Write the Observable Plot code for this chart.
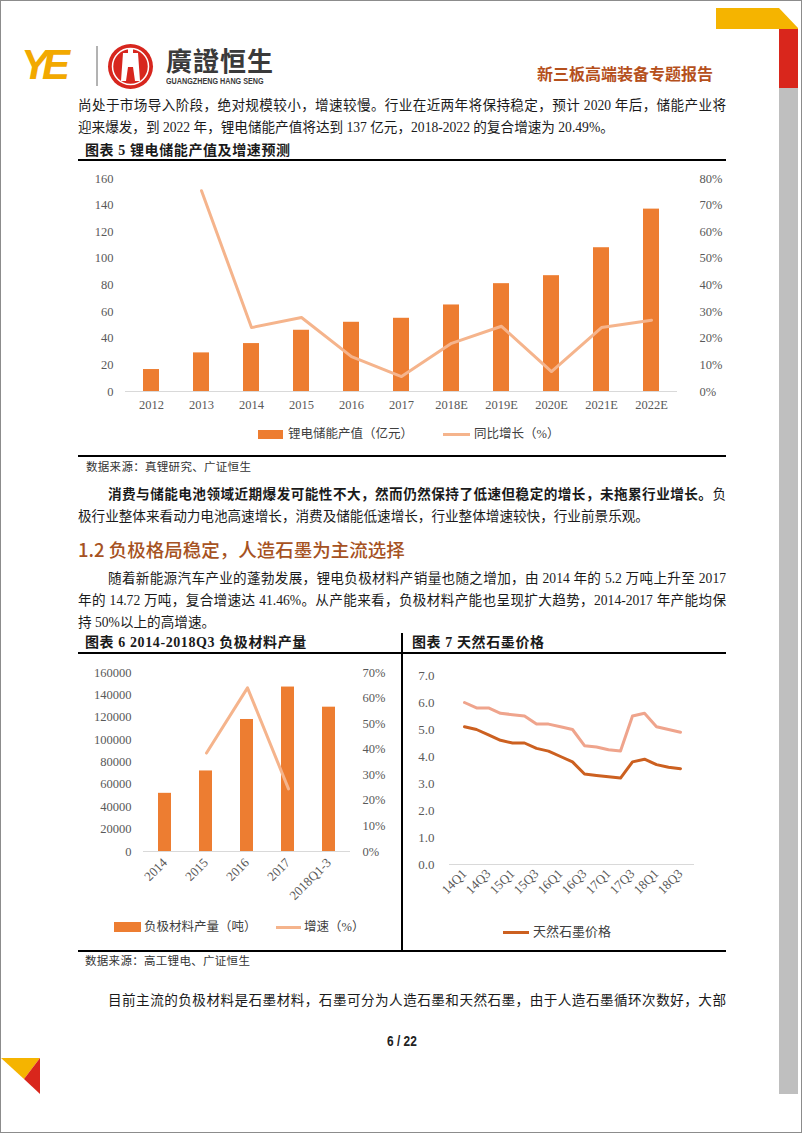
<!DOCTYPE html>
<html><head><meta charset="utf-8">
<script src="https://cdn.jsdelivr.net/npm/d3@7"></script>
<script src="https://cdn.jsdelivr.net/npm/@observablehq/plot@0.6"></script>
<style>
body{margin:0;background:#fff;}
#page{position:relative;width:802px;height:1133px;box-sizing:border-box;border:1px solid #8c8c8c;overflow:hidden;font-family:"Liberation Serif","Noto Sans CJK SC",serif;color:#1a1a1a;background:#fff;}
.abs{position:absolute;white-space:nowrap;}
.txt{position:absolute;left:77px;width:648px;height:22px;line-height:22px;font-size:13.6px;white-space:nowrap;}
.ind{left:107px;width:618px;}
.just{text-align:justify;text-align-last:justify;}
.rule{position:absolute;left:77px;width:648px;height:2px;background:#000;}
.ctitle{position:absolute;font-size:14px;font-weight:bold;letter-spacing:0.6px;line-height:20px;white-space:nowrap;}
.src{position:absolute;font-size:11.5px;line-height:16px;color:#333;white-space:nowrap;letter-spacing:0.3px;}
.leg{position:absolute;font-size:12.5px;line-height:16px;color:#404040;white-space:nowrap;}
.sw{position:absolute;}
svg.plot{position:absolute;}
</style></head>
<body>
<div id="page">
  <!-- decorations -->
  <svg class="abs" style="left:0;top:0" width="802" height="1133">
    <polygon points="715,7 778,7 797,27 797,28 715,28" fill="#F5B400"/>
    <rect x="778" y="28" width="19" height="59" fill="#D9261C"/>
    <rect x="778" y="87" width="19" height="1006" fill="#BFBFBF"/>
    <polygon points="0,1057 39,1057 23,1078" fill="#F5B400"/>
    <polygon points="39,1057 39,1093 23,1078" fill="#D9261C"/>
    <!-- logo -->
    <text x="20" y="78" font-family="Liberation Sans" font-weight="bold" font-style="italic" font-size="42" fill="#F2A900" letter-spacing="-7">YE</text>
    <line x1="96" y1="45" x2="96" y2="85" stroke="#666" stroke-width="1"/>
    <circle cx="129.5" cy="65.5" r="22.5" fill="#D7261E"/>
    <circle cx="129.5" cy="65.5" r="18" fill="none" stroke="#fff" stroke-width="1.5"/>
    <path d="M120,80 L122,52 L127,52 L127,47 L132,47 L132,52 L137,52 L139,80 L134,80 L132,66 L127,66 L125,80 Z" fill="#fff"/>
  </svg>
  <div class="abs" style="left:165px;top:46px;font-family:'Noto Sans CJK TC';font-weight:bold;font-size:26px;line-height:26px;color:#3a3a3a;letter-spacing:1px;">廣證恒生</div>
  <div class="abs" style="left:165px;top:76px;font-family:'Liberation Sans';font-weight:bold;font-size:9px;line-height:9px;color:#3a3a3a;transform:scaleX(0.8);transform-origin:0 0;">GUANGZHENG HANG SENG</div>
  <div class="abs" style="left:536px;top:61px;font-family:'Noto Sans CJK SC';font-weight:bold;font-size:16px;line-height:22px;color:#B5501C;">新三板高端装备专题报告</div>

  <!-- paragraph 1 -->
  <div class="txt just" style="top:94px">尚处于市场导入阶段，绝对规模较小，增速较慢。行业在近两年将保持稳定，预计 2020 年后，储能产业将</div>
  <div class="txt" style="top:116px">迎来爆发，到 2022 年，锂电储能产值将达到 137 亿元，2018-2022 的复合增速为 20.49%。</div>

  <div class="ctitle" style="left:84px;top:140px">图表 5 锂电储能产值及增速预测</div>
  <div class="rule" style="top:158px"></div>
  <div id="c5"></div>
  <div class="sw" style="left:257px;top:429px;width:25px;height:9px;background:#ED7D31"></div>
  <div class="leg" style="left:287px;top:425px">锂电储能产值（亿元）</div>
  <div class="sw" style="left:442px;top:432px;width:27px;height:3px;background:#F5B48C"></div>
  <div class="leg" style="left:473px;top:425px">同比增长（%）</div>
  <div class="rule" style="top:454px"></div>
  <div class="src" style="left:85px;top:458px">数据来源：真锂研究、广证恒生</div>

  <!-- paragraph 2 -->
  <div class="txt ind just" style="top:483px"><b>消费与储能电池领域近期爆发可能性不大，然而仍然保持了低速但稳定的增长，未拖累行业增长。</b>负</div>
  <div class="txt" style="top:505px">极行业整体来看动力电池高速增长，消费及储能低速增长，行业整体增速较快，行业前景乐观。</div>

  <div class="abs" style="left:77px;top:536px;font-family:'Noto Sans CJK SC';font-weight:500;font-size:18.5px;line-height:24px;color:#A65222;">1.2 负极格局稳定，人造石墨为主流选择</div>

  <!-- paragraph 3 -->
  <div class="txt ind just" style="top:567px">随着新能源汽车产业的蓬勃发展，锂电负极材料产销量也随之增加，由 2014 年的 5.2 万吨上升至 2017</div>
  <div class="txt just" style="top:589px">年的 14.72 万吨，复合增速达 41.46%。从产能来看，负极材料产能也呈现扩大趋势，2014-2017 年产能均保</div>
  <div class="txt" style="top:611px">持 50%以上的高增速。</div>

  <div class="ctitle" style="left:84px;top:632px">图表 6 2014-2018Q3 负极材料产量</div>
  <div class="ctitle" style="left:411px;top:632px">图表 7 天然石墨价格</div>
  <div class="rule" style="top:651px"></div>
  <div class="abs" style="left:400px;top:632px;width:2px;height:318px;background:#000"></div>
  <div id="c6"></div>
  <div id="c7"></div>
  <div class="sw" style="left:113px;top:921px;width:27px;height:10px;background:#ED7D31"></div>
  <div class="leg" style="left:143px;top:918px">负极材料产量（吨）</div>
  <div class="sw" style="left:275px;top:925px;width:25px;height:3px;background:#F5B48C"></div>
  <div class="leg" style="left:303px;top:918px">增速（%）</div>
  <div class="sw" style="left:502px;top:930px;width:26px;height:3px;background:#CC6020"></div>
  <div class="leg" style="left:532px;top:923px;font-size:13px">天然石墨价格</div>
  <div class="rule" style="top:949px"></div>
  <div class="src" style="left:84px;top:952px">数据来源：高工锂电、广证恒生</div>

  <div class="txt ind just" style="top:989px">目前主流的负极材料是石墨材料，石墨可分为人造石墨和天然石墨，由于人造石墨循环次数好，大部</div>

  <div class="abs" style="left:386px;top:1032px;font-family:'Liberation Sans';font-weight:bold;font-size:14px;line-height:16px;color:#222;transform:scaleX(0.85);transform-origin:0 0;">6 / 22</div>
</div>
<script>
// ---- Chart 5 data ----
const years5 = ["2012","2013","2014","2015","2016","2017","2018E","2019E","2020E","2021E","2022E"];
const output5 = [16.5, 29, 36, 46, 52, 55, 65, 81, 87, 108, 137];
const growth5 = [null, 0.754, 0.240, 0.278, 0.131, 0.056, 0.181, 0.245, 0.075, 0.240, 0.268];
const ticks5Left = [0, 20, 40, 60, 80, 100, 120, 140, 160];
const ticks5Right = [0, 0.1, 0.2, 0.3, 0.4, 0.5, 0.6, 0.7, 0.8];

// ---- Chart 6 data ----
const cats6 = ["2014","2015","2016","2017","2018Q1-3"];
const output6 = [52000, 72000, 118000, 147000, 129000];
const growth6 = [null, 0.385, 0.640, 0.245, null];
const ticks6Left = [0, 20000, 40000, 60000, 80000, 100000, 120000, 140000, 160000];
const ticks6Right = [0, 0.1, 0.2, 0.3, 0.4, 0.5, 0.6, 0.7];

// ---- Chart 7 data ----
const quarters7 = ["14Q1","14Q2","14Q3","14Q4","15Q1","15Q2","15Q3","15Q4","16Q1","16Q2","16Q3","16Q4","17Q1","17Q2","17Q3","17Q4","18Q1","18Q2","18Q3"];
const priceHigh7 = [6.0, 5.8, 5.8, 5.6, 5.55, 5.5, 5.2, 5.2, 5.1, 5.0, 4.4, 4.35, 4.25, 4.2, 5.5, 5.6, 5.1, 5.0, 4.9];
const priceLow7 = [5.1, 5.0, 4.8, 4.6, 4.5, 4.5, 4.3, 4.2, 4.0, 3.8, 3.35, 3.3, 3.25, 3.2, 3.8, 3.9, 3.7, 3.6, 3.55];
const ticks7X = ["14Q1","14Q3","15Q1","15Q3","16Q1","16Q3","17Q1","17Q3","18Q1","18Q3"];
const ticks7Y = [0, 1, 2, 3, 4, 5, 6, 7];

const page = document.getElementById("page");
function place(svg, left, top) {
  svg.style.position = "absolute";
  svg.style.left = left + "px";
  svg.style.top = top + "px";
  svg.style.maxWidth = "none";
  page.appendChild(svg);
}
const font = (size) => ({fontFamily: "'Liberation Serif', serif", fontSize: size + "px", background: "transparent", color: "#595959", overflow: "visible"});
const pct = d3.format(".0%");

// ===== Chart 5 =====
const dim5 = {width: 650, height: 260, marginLeft: 49, marginRight: 49, marginTop: 12, marginBottom: 35};
const data5 = years5.map((y, i) => ({year: y, value: output5[i], growth: growth5[i]}));
place(Plot.plot({
  ...dim5, style: font(12.5),
  x: {type: "band", domain: years5, paddingInner: 0.69, paddingOuter: 0.345, label: null},
  y: {domain: [0, 160], label: null},
  marks: [
    Plot.barY(data5, {x: "year", y: "value", fill: "#ED7D31"}),
    Plot.ruleY([0], {stroke: "#d9d9d9"}),
    Plot.axisX({tickSize: 0, tickPadding: 9, label: null}),
    Plot.axisY({ticks: ticks5Left, tickSize: 0, tickPadding: 12, label: null})
  ]
}), 75, 165);
place(Plot.plot({
  ...dim5, style: font(12.5),
  x: {type: "point", domain: years5, padding: 0.5, axis: null},
  y: {domain: [0, 0.8], label: null},
  marks: [
    Plot.line(data5.filter(d => d.growth != null), {x: "year", y: "growth", stroke: "#F5B48C", strokeWidth: 3}),
    Plot.axisY({anchor: "right", ticks: ticks5Right, tickFormat: pct, tickSize: 0, tickPadding: 22, label: null})
  ]
}), 75, 165);

// ===== Chart 6 =====
const dim6 = {width: 320, height: 255, marginLeft: 64, marginRight: 49, marginTop: 11, marginBottom: 65};
const data6 = cats6.map((c, i) => ({cat: c, value: output6[i], growth: growth6[i]}));
place(Plot.plot({
  ...dim6, style: font(12.5),
  x: {type: "band", domain: cats6, paddingInner: 0.69, paddingOuter: 0.345, label: null},
  y: {domain: [0, 160000], label: null},
  marks: [
    Plot.barY(data6, {x: "cat", y: "value", fill: "#ED7D31"}),
    Plot.ruleY([0], {stroke: "#d9d9d9"}),
    Plot.axisX({tickSize: 0, tickPadding: 9, tickRotate: -45, fontSize: 13, label: null}),
    Plot.axisY({ticks: ticks6Left, tickFormat: d => String(d), tickSize: 0, tickPadding: 12, label: null})
  ]
}), 78, 660);
place(Plot.plot({
  ...dim6, style: font(12.5),
  x: {type: "point", domain: cats6, padding: 0.5, axis: null},
  y: {domain: [0, 0.7], label: null},
  marks: [
    Plot.line(data6.filter(d => d.growth != null), {x: "cat", y: "growth", stroke: "#F5B48C", strokeWidth: 3}),
    Plot.axisY({anchor: "right", ticks: ticks6Right, tickFormat: pct, tickSize: 0, tickPadding: 12, label: null})
  ]
}), 78, 660);

// ===== Chart 7 =====
const data7 = quarters7.map((q, i) => ({q, high: priceHigh7[i], low: priceLow7[i]}));
place(Plot.plot({
  width: 310, height: 250, marginLeft: 43, marginRight: 22, marginTop: 12, marginBottom: 49,
  style: font(13),
  x: {type: "point", domain: quarters7, padding: 0.5, label: null},
  y: {domain: [0, 7], label: null},
  marks: [
    Plot.ruleY([0], {stroke: "#d9d9d9"}),
    Plot.line(data7, {x: "q", y: "high", stroke: "#EFA48C", strokeWidth: 3}),
    Plot.line(data7, {x: "q", y: "low", stroke: "#CC6020", strokeWidth: 3}),
    Plot.axisX({ticks: ticks7X, tickSize: 0, tickPadding: 7, tickRotate: -45, label: null}),
    Plot.axisY({ticks: ticks7Y, tickFormat: d3.format(".1f"), tickSize: 0, tickPadding: 15, label: null})
  ]
}), 405, 662);
</script>
</body></html>
